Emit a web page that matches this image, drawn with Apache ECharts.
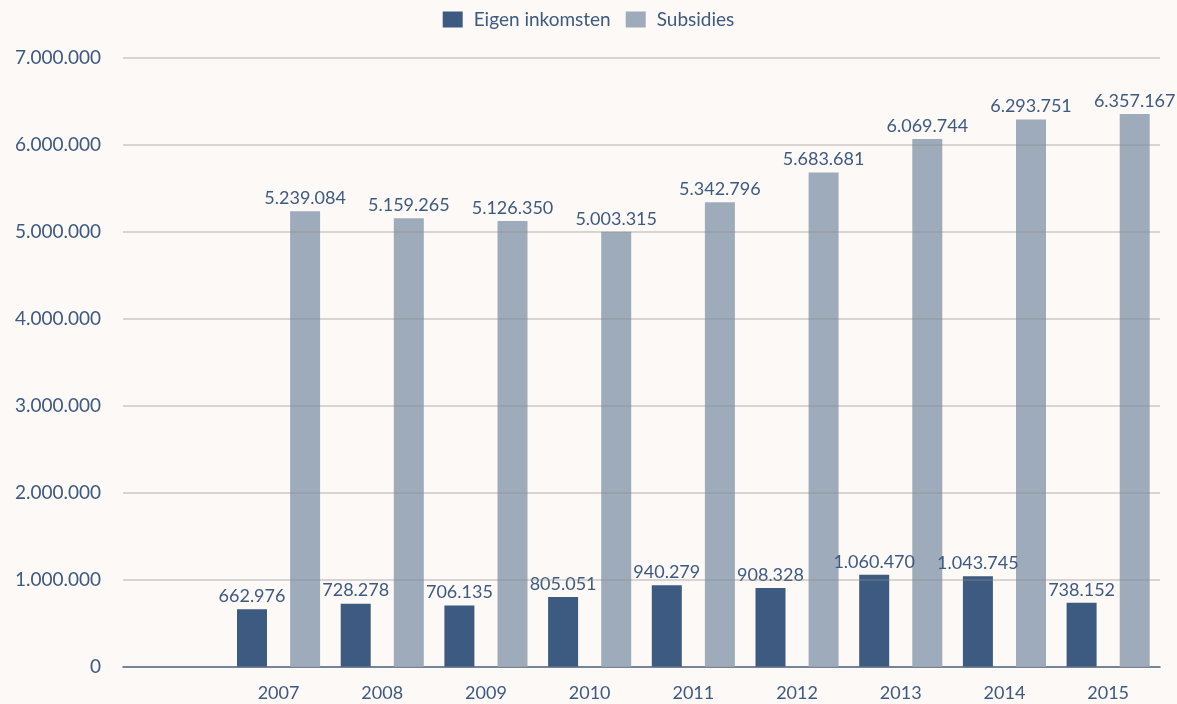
<!DOCTYPE html>
<html>
<head>
<meta charset="utf-8">
<script src="https://cdn.jsdelivr.net/npm/echarts@6/dist/echarts.min.js"></script>
<style>
    html, body { margin: 0; padding: 0; background: #fdf9f6; }
    #chart { width: 1177px; height: 704px; }
</style>
</head>
<body>
<div id="chart"></div>
<script>
var years = ['', '2007', '2008', '2009', '2010', '2011', '2012', '2013', '2014', '2015'];
var eigen = ['-', 662976, 728278, 706135, 805051, 940279, 908328, 1060470, 1043745, 738152];
var subsidies = ['-', 5239084, 5159265, 5126350, 5003315, 5342796, 5683681, 6069744, 6293751, 6357167];

var textColor = '#3d5a80';
var fontFam = 'Lato, "Open Sans", sans-serif';

//punt als duizendtalscheiding
function fmt(v) {
    return String(v).replace(/\B(?=(\d{3})+(?!\d))/g, '.');
}

var myChart = echarts.init(document.getElementById('chart'));
var option = {
    backgroundColor: '#fdf9f6',
    animation: false,
    color: ['#3d5a80', '#9eabbb'],
    textStyle: { fontFamily: fontFam },
    legend: {
        top: 5,
        left: 'center',
        itemWidth: 20,
        itemHeight: 16,
        itemGap: 15,
        icon: 'rect',
        textStyle: { color: textColor, fontSize: 19, fontFamily: fontFam, padding: [0, 0, 0, 6] },
        data: ['Eigen inkomsten', 'Subsidies']
    },
    grid: {
        left: 123,
        right: 17,
        top: 58,
        bottom: 37,
        containLabel: false
    },
    xAxis: {
        type: 'category',
        data: years,
        axisTick: { show: false },
        axisLine: { lineStyle: { color: textColor, width: 1.5 } },
        axisLabel: { color: textColor, fontSize: 18, margin: 17, fontFamily: fontFam }
    },
    yAxis: {
        type: 'value',
        min: 0,
        max: 7000000,
        interval: 1000000,
        z: 3,
        axisLabel: {
            color: textColor,
            fontSize: 19,
            margin: 22,
            fontFamily: fontFam,
            formatter: fmt
        },
        splitLine: { lineStyle: { color: 'rgba(140,140,140,0.45)', width: 1.5 } }
    },
    series: [{
        name: 'Eigen inkomsten',
        type: 'bar',
        barWidth: 30,
        barGap: '77%',
        label: {
            show: true,
            position: 'top',
            distance: 4,
            color: textColor,
            fontSize: 18,
            fontFamily: fontFam,
            formatter: function(p) { return fmt(p.value); }
        },
        data: eigen
    }, {
        name: 'Subsidies',
        type: 'bar',
        barWidth: 30,
        label: {
            show: true,
            position: 'top',
            distance: 4,
            color: textColor,
            fontSize: 18,
            fontFamily: fontFam,
            formatter: function(p) { return fmt(p.value); }
        },
        data: subsidies
    }]
};
myChart.setOption(option);
</script>
</body>
</html>
